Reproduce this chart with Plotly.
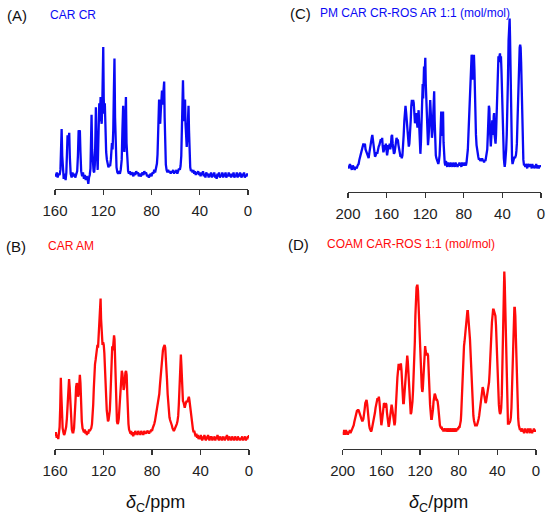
import plotly.graph_objects as go

# ---------------- data (ppm, intensity) ----------------
spec_a = [(160,1),(159.2,-1),(158.5,2),(157.8,-2),(157,1),(156.2,0),(155.5,4),(155,20),(154.5,36),(154,15),(153.5,0),(152.8,-3),(152,1),(151.2,-4),(150.6,2),(150.1,15),(149.6,31),(149.1,24),(148.6,30),(148.2,33),(147.7,14),(147,1),(146.2,-2),(145.5,2),(144.7,-1),(144,1),(143.2,-2),(142.5,0),(141.6,3),(141,15),(140.4,35),(139.9,30),(139.4,35),(138.9,18),(138.3,3),(137.5,-1),(136.8,2),(136,-3),(135.3,0),(134.5,-4),(133.8,-1),(133,-3),(132.4,-7),(131.8,-2),(131.2,0),(130.6,5),(130.1,22),(129.7,47),(129.2,20),(128.6,5),(128,3),(127.5,2),(127,8),(126.5,30),(126.1,53),(125.6,22),(125.1,8),(124.6,4),(124.1,25),(123.6,48),(123.3,56),(122.9,42),(122.5,52),(122.2,61),(121.8,45),(121.3,40),(120.8,55),(120.4,72),(120,100),(119.6,60),(119.2,48),(118.7,56),(118.2,35),(117.6,18),(117,12),(116.4,9),(115.7,6),(115,8),(114.3,7),(113.7,12),(113.2,22),(112.8,25),(112.3,20),(111.7,35),(111.2,65),(110.7,91),(110.2,45),(109.6,15),(109,6),(108.3,2),(107.6,1),(107,3),(106.2,1),(105.5,4),(104.7,12),(104.1,35),(103.5,54),(103,25),(102.5,18),(102,35),(101.5,55),(101.2,61),(100.7,25),(100.1,8),(99.4,3),(98.7,1),(98,3),(97.2,0),(96.5,2),(95.7,1),(95,-1),(94.3,2),(93.5,0),(92.7,3),(92,1),(91.2,2),(90.5,-1),(89.7,1),(89,-1),(88.2,0),(87.5,2),(86.7,0),(86,3),(85.2,1),(84.5,2),(83.7,-1),(83,0),(82.2,-2),(81.5,0),(80.7,1),(80,-1),(79.2,2),(78.5,1),(77.7,4),(77,2),(76.2,5),(75.5,9),(75,16),(74.5,28),(74.1,45),(73.7,59),(73.3,45),(72.8,40),(72.3,50),(71.8,60),(71.3,66),(70.9,55),(70.4,62),(69.9,70),(69.5,73),(69.1,45),(68.6,20),(68.1,8),(67.5,4),(66.8,2),(66.2,4),(65.5,2),(64.8,3),(64.1,1),(63.4,3),(62.7,2),(62,4),(61.3,1),(60.6,3),(60,2),(59.3,4),(58.6,1),(57.9,3),(57.2,5),(56.5,4),(55.9,7),(55.3,15),(54.8,40),(54.3,62),(53.9,74),(53.5,55),(53.1,42),(52.6,50),(52.2,59),(51.8,40),(51.3,25),(50.8,22),(50.3,30),(49.8,45),(49.3,54),(48.9,35),(48.4,15),(47.9,6),(47.3,3),(46.6,4),(46,2),(45.3,4),(44.6,1),(44,3),(43.3,0),(42.6,2),(42,1),(41.3,3),(40.6,0),(40,2),(39.3,-1),(38.6,2),(38,0),(37.3,3),(36.6,-1),(36,1),(35.3,-2),(34.6,2),(34,0),(33.3,1),(32.6,-2),(32,1),(31.3,-1),(30.6,2),(30,-2),(29.3,1),(28.6,-1),(28,2),(27.3,-2),(26.6,0),(26,-3),(25.3,1),(24.6,-1),(24,2),(23.3,-2),(22.6,0),(22,-1),(21.3,2),(20.6,-2),(20,1),(19.3,-1),(18.6,2),(18,-2),(17.3,0),(16.6,-1),(16,2),(15.3,-1),(14.6,1),(14,-2),(13.3,1),(12.6,-1),(12,2),(11.3,-2),(10.6,0),(10,-1),(9.3,2),(8.6,-2),(8,1),(7.3,-1),(6.6,2),(6,0),(5.3,-2),(4.6,1),(4,-1),(3.3,2),(2.6,-2),(2,0),(1.3,-1),(0.6,1),(0,0)]

spec_b = [(160,-1),(159.3,2),(158.6,-2),(158,0),(157.3,-3),(156.7,1),(156.2,6),(155.7,20),(155.2,42),(154.8,30),(154.3,12),(153.7,5),(153.1,2),(152.5,0),(152,1),(151.4,3),(150.8,6),(150.2,12),(149.6,22),(149,35),(148.4,41),(147.9,35),(147.3,20),(146.7,9),(146.1,4),(145.5,2),(144.9,2),(144.3,5),(143.7,12),(143.1,25),(142.6,35),(142.1,38),(141.6,37),(141,28),(140.5,30),(140,40),(139.5,44),(139,38),(138.5,22),(137.9,10),(137.3,5),(136.7,4),(136.1,2),(135.5,4),(134.9,1),(134.3,3),(133.7,0),(133.1,2),(132.5,1),(131.9,4),(131.3,3),(130.7,4),(130.1,5),(129.5,8),(129,14),(128.5,22),(128,34),(127.5,46),(127,52),(126.5,55),(126,60),(125.5,62),(125,66),(124.5,64),(124,72),(123.6,76),(123.1,80),(122.7,92),(122.4,100),(122,85),(121.6,72),(121.2,70),(120.8,66),(120.3,68),(119.8,66),(119.3,60),(118.8,52),(118.3,40),(117.8,28),(117.3,18),(116.8,12),(116.3,10),(115.8,11),(115.3,14),(114.8,18),(114.3,28),(113.8,45),(113.3,60),(112.8,65),(112.3,62),(111.8,66),(111.3,73),(110.9,70),(110.4,55),(109.9,35),(109.4,18),(108.9,10),(108.4,8),(107.9,9),(107.4,12),(106.9,18),(106.4,25),(105.9,35),(105.4,42),(104.9,47),(104.4,45),(103.9,38),(103.4,33),(102.9,35),(102.4,42),(101.9,46),(101.4,47),(100.9,44),(100.4,30),(99.9,15),(99.4,8),(98.9,4),(98.3,2),(97.7,1),(97.2,3),(96.7,0),(96.1,2),(95.5,-1),(95,2),(94.4,0),(93.8,3),(93.2,1),(92.6,2),(92,0),(91.4,3),(90.8,1),(90.2,2),(89.6,0),(89,3),(88.4,1),(87.8,2),(87.2,0),(86.6,3),(86,1),(85.4,2),(84.8,1),(84.2,3),(83.6,2),(83,3),(82.4,1),(81.8,3),(81.2,2),(80.6,4),(80,3),(79.4,5),(78.8,6),(78.2,8),(77.6,10),(77,13),(76.4,17),(75.8,20),(75.2,23),(74.6,26),(74,30),(73.5,36),(73,42),(72.5,48),(72,54),(71.5,58),(71,62),(70.5,64),(70,66),(69.6,66),(69.1,64),(68.6,58),(68.1,50),(67.6,40),(67.1,30),(66.6,22),(66.1,16),(65.6,13),(65.1,11),(64.6,10),(64.1,8),(63.6,7),(63.1,5),(62.6,4),(62,3),(61.4,4),(60.8,5),(60.2,7),(59.6,8),(59,10),(58.4,14),(57.9,22),(57.4,35),(57,48),(56.6,56),(56.2,59),(55.8,52),(55.4,40),(55,30),(54.5,25),(54,24),(53.5,21),(53,20),(52.5,22),(52,24),(51.5,25),(51,24),(50.5,26),(50,28),(49.6,28),(49.2,26),(48.7,22),(48.2,17),(47.7,13),(47.2,9),(46.7,6),(46.2,4),(45.7,2),(45.2,3),(44.6,1),(44,-1),(43.4,1),(42.8,-2),(42.2,0),(41.6,-3),(41,-1),(40.4,-3),(39.8,0),(39.2,-2),(38.6,-4),(38,-1),(37.4,-3),(36.8,0),(36.2,-2),(35.6,-4),(35,-1),(34.4,-3),(33.8,0),(33.2,-2),(32.6,-4),(32,-1),(31.4,-3),(30.8,-1),(30.2,-4),(29.6,-2),(29,-3),(28.4,-1),(27.8,-4),(27.2,-2),(26.6,-3),(26,0),(25.4,-2),(24.8,-4),(24.2,-1),(23.6,-3),(23,-2),(22.4,-4),(21.8,-1),(21.2,-3),(20.6,-2),(20,-4),(19.4,-1),(18.8,-3),(18.2,0),(17.6,-2),(17,-4),(16.4,-1),(15.8,-3),(15.2,-2),(14.6,-4),(14,-1),(13.4,-3),(12.8,-2),(12.2,-4),(11.6,-1),(11,-3),(10.4,-2),(9.8,-4),(9.2,-1),(8.6,-3),(8,-2),(7.4,-4),(6.8,-2),(6.2,-3),(5.6,-1),(5,-4),(4.4,-2),(3.8,-3),(3.2,-1),(2.6,-4),(2,-2),(1.4,-3),(0.8,-1),(0.2,-2),(0,0)]

spec_c = [(200,-1),(199,-3),(198,0),(197,-2),(196,-4),(195,-1),(194,-3),(193,-4),(192,-2),(191,-3),(190,-1),(189,0),(188.2,3),(187.4,5),(186.5,8),(185.6,10),(184.8,11),(184,14),(183.3,12),(182.5,14),(181.8,10),(181,8),(180.2,6),(179.4,5),(178.6,4),(177.8,8),(177,12),(176.2,17),(175.4,18),(174.8,20),(174.1,16),(173.4,10),(172.7,6),(172,5),(171.3,6),(170.5,8),(169.7,7),(169,10),(168.2,12),(167.5,13),(166.7,16),(166,17),(165.3,15),(164.6,18),(164,12),(163.3,8),(162.6,10),(162,13),(161.4,11),(160.8,14),(160.2,10),(159.5,6),(158.8,9),(158.2,13),(157.5,11),(156.8,14),(156.2,10),(155.5,13),(154.9,19),(154.3,20),(153.7,14),(153,9),(152.4,7),(151.7,8),(151,11),(150.3,15),(149.7,18),(149.1,16),(148.4,17),(147.7,13),(147,9),(146.3,6),(145.6,5),(145,6),(144.3,4),(143.6,6),(143,11),(142.3,20),(141.6,30),(141,38),(140.4,40),(139.7,35),(139,28),(138.3,18),(137.7,14),(137,12),(136.4,14),(135.7,20),(135,30),(134.4,40),(133.8,44),(133.2,40),(132.5,44),(131.9,42),(131.3,35),(130.6,28),(130,30),(129.3,35),(128.7,30),(128,25),(127.4,33),(126.8,37),(126.2,26),(125.5,10),(125,7),(124.4,15),(123.8,30),(123.2,50),(122.6,55),(122.1,45),(121.6,62),(121.2,67),(120.7,58),(120.3,65),(119.9,73),(119.4,55),(118.8,40),(118.2,25),(117.6,15),(117.1,13),(116.5,18),(115.9,30),(115.3,40),(114.8,44),(114.2,35),(113.6,25),(113,18),(112.4,22),(111.8,35),(111.3,45),(110.7,50),(110.2,30),(109.6,12),(109,6),(108.4,4),(107.7,2),(107,1),(106.4,0),(105.8,2),(105.1,6),(104.5,15),(104,30),(103.4,36),(102.9,20),(102.4,20),(101.9,33),(101.5,36),(101,15),(100.5,4),(99.8,1),(99.2,-1),(98.5,2),(97.8,0),(97.2,-2),(96.5,1),(95.8,-1),(95.2,0),(94.5,-2),(93.8,1),(93.2,-1),(92.5,0),(91.8,-2),(91.2,1),(90.5,-1),(89.8,0),(89.2,-2),(88.5,1),(87.8,-1),(87.2,0),(86.5,-2),(85.8,0),(85.2,-1),(84.5,1),(83.8,-1),(83.2,0),(82.5,-2),(81.8,1),(81.2,-1),(80.5,0),(79.8,-1),(79.2,1),(78.5,0),(77.8,-1),(77.2,1),(76.5,4),(75.8,10),(75.2,20),(74.6,30),(74,38),(73.4,45),(72.9,55),(72.4,70),(71.9,75),(71.4,74),(71,60),(70.5,58),(70,70),(69.5,75),(69,65),(68.5,45),(68,30),(67.4,20),(66.8,13),(66.2,9),(65.6,6),(65,5),(64.3,3),(63.6,4),(63,2),(62.3,3),(61.6,2),(61,4),(60.3,2),(59.6,3),(59,1),(58.3,3),(57.6,2),(57,4),(56.3,6),(55.7,10),(55.1,20),(54.5,32),(54,40),(53.5,38),(53,25),(52.5,15),(52,12),(51.5,18),(51,25),(50.5,30),(50,20),(49.5,22),(49,33),(48.6,35),(48.1,20),(47.6,15),(47.1,14),(46.6,20),(46.1,30),(45.6,45),(45.1,60),(44.6,70),(44.1,74),(43.6,72),(43.1,74),(42.5,76),(42,70),(41.5,74),(41,65),(40.5,50),(40,35),(39.5,20),(39,10),(38.5,4),(38,0),(37.6,-2),(37.1,1),(36.6,4),(36.1,10),(35.5,20),(34.8,35),(34.2,60),(33.6,85),(33,97),(32.5,100),(32.1,88),(31.6,60),(31.1,30),(30.6,12),(30,3),(29.5,0),(29,1),(28.5,3),(28,4),(27.5,5),(27,4),(26.5,5),(26,6),(25.5,9),(25,14),(24.4,28),(23.8,48),(23.2,66),(22.6,76),(22.1,80),(21.6,82),(21.1,80),(20.6,70),(20.1,50),(19.5,28),(18.9,10),(18.3,3),(17.6,-1),(17,0),(16.3,-2),(15.6,0),(15,-1),(14.3,-3),(13.6,0),(13,-1),(12.3,-2),(11.6,0),(11,-2),(10.3,-1),(9.6,-3),(9,0),(8.3,-2),(7.6,-1),(7,-3),(6.3,-1),(5.6,-2),(5,0),(4.3,-3),(3.6,-1),(3,-2),(2.3,-3),(1.6,-1),(1,-2),(0.4,-1),(0,-2)]

spec_d = [(200,-1),(199.3,-3),(198.6,0),(198,-2),(197.3,-3),(196.6,0),(196,-2),(195.3,-1),(194.6,-3),(194,-1),(193.3,-2),(192.6,0),(192,-2),(191.3,-1),(190.6,0),(190,1),(189.3,2),(188.6,3),(188,5),(187.3,7),(186.6,9),(186,11),(185.3,12),(184.6,12),(184,13),(183.3,12),(182.6,11),(182,10),(181.3,8),(180.6,7),(180,6),(179.3,6),(178.6,7),(178,9),(177.3,13),(176.6,17),(176,19),(175.3,19),(174.6,16),(174,11),(173.3,6),(172.6,3),(172,1),(171.3,0),(170.6,-1),(170,0),(169.3,2),(168.6,4),(168,6),(167.3,8),(166.6,11),(166,14),(165.3,17),(164.6,19),(164,20),(163.3,19),(162.6,21),(162,18),(161.3,12),(160.6,5),(160,3),(159.3,6),(158.6,11),(158,15),(157.3,17),(156.6,16),(156,14),(155.4,17),(154.8,16),(154.2,11),(153.6,6),(153,3),(152.4,2),(151.8,4),(151.2,8),(150.6,13),(150,16),(149.4,16),(148.8,14),(148.2,10),(147.6,6),(147,4),(146.4,3),(145.8,5),(145.2,10),(144.6,18),(144,26),(143.4,33),(142.8,38),(142.2,41),(141.6,41),(141,38),(140.4,39),(139.8,42),(139.2,38),(138.6,30),(138,22),(137.4,17),(136.8,17),(136.2,22),(135.6,30),(135,38),(134.4,43),(133.8,46),(133.2,47),(132.6,43),(132,36),(131.4,27),(130.8,19),(130.2,13),(129.6,10),(129,11),(128.4,14),(127.8,18),(127.2,25),(126.6,32),(126,40),(125.4,55),(124.8,72),(124.2,85),(123.6,90),(123.1,91),(122.6,91),(122.1,88),(121.6,80),(121.1,68),(120.6,58),(120,48),(119.4,40),(118.8,32),(118.2,27),(117.6,24),(117.1,26),(116.6,32),(116.1,40),(115.6,48),(115.1,52),(114.7,53),(114.2,50),(113.7,48),(113.2,47),(112.7,48),(112.2,48),(111.7,47),(111.2,42),(110.7,34),(110.2,25),(109.6,16),(109,10),(108.4,7),(107.8,7),(107.2,9),(106.6,13),(106,18),(105.4,22),(104.8,23),(104.2,22),(103.6,20),(103,19),(102.4,19),(101.8,18),(101.2,15),(100.6,10),(100,6),(99.4,3),(98.8,2),(98.2,1),(97.6,2),(97,0),(96.4,1),(95.8,-1),(95.2,1),(94.6,0),(94,1),(93.4,-1),(92.8,1),(92.2,0),(91.6,-1),(91,1),(90.4,0),(89.8,-1),(89.2,1),(88.6,0),(88,-1),(87.4,1),(86.8,0),(86.2,-1),(85.6,1),(85,0),(84.4,-1),(83.8,1),(83.2,0),(82.6,-1),(82,1),(81.4,0),(80.8,1),(80.2,1),(79.6,2),(79,2),(78.4,4),(77.8,6),(77.4,10),(76.9,19),(76.3,30),(75.7,40),(75.1,48),(74.5,53),(73.9,56),(73.4,60),(72.8,66),(72.2,71),(71.6,74),(71,75),(70.5,75),(70,72),(69.4,67),(68.9,62),(68.3,57),(67.7,48),(67.1,38),(66.5,28),(66,20),(65.4,14),(64.8,9),(64.2,6),(63.6,4),(63,3),(62.4,3),(61.8,3),(61.2,3),(60.6,4),(60,5),(59.4,7),(58.8,9),(58.2,12),(57.6,16),(57,20),(56.4,24),(55.8,26),(55.2,27),(54.6,26),(54,23),(53.4,20),(52.8,18),(52.2,17),(51.6,18),(51,20),(50.4,22),(49.8,24),(49.2,26),(48.6,30),(48,36),(47.4,42),(46.8,50),(46.2,60),(45.6,68),(45,73),(44.4,76),(43.8,76),(43.2,74),(42.6,72),(42,72),(41.4,66),(40.8,54),(40.2,42),(39.6,32),(39,23),(38.4,16),(37.8,12),(37.2,10),(36.6,11),(36,14),(35.4,22),(34.8,40),(34.2,65),(33.7,85),(33.2,97),(32.8,100),(32.4,94),(32,82),(31.5,66),(31,48),(30.5,28),(30,12),(29.5,5),(29,4),(28.5,4),(28,4),(27.5,5),(27,5),(26.5,6),(26,8),(25.4,14),(24.8,27),(24.2,45),(23.6,62),(23,72),(22.4,77),(21.9,77),(21.4,72),(20.8,58),(20.2,40),(19.6,26),(19,14),(18.4,7),(17.8,3),(17.2,1),(16.6,0),(16,1),(15.4,-1),(14.8,0),(14.2,1),(13.6,-1),(13,0),(12.4,-2),(11.8,0),(11.2,1),(10.6,-1),(10,0),(9.4,-2),(8.8,0),(8.2,1),(7.6,-1),(7,0),(6.4,-2),(5.8,1),(5.2,-1),(4.6,0),(4,-2),(3.4,0),(2.8,-1),(2.2,1),(1.6,-1),(1,0),(0.4,-1),(0,0)]

ticks_ab = [160, 120, 80, 40, 0]
ticks_cd = [200, 160, 120, 80, 40, 0]
labels = ["(A)", "(B)", "(C)", "(D)"]
titles = ["CAR CR", "CAR AM", "PM CAR CR-ROS AR 1:1 (mol/mol)", "COAM CAR-ROS 1:1 (mol/mol)"]

BLUE = "#0a0af5"
RED = "#ff0a0a"
W, H = 550, 520
FONT = "Liberation Sans, Arial, sans-serif"

# panel geometry in pixels: x-left, x-right, axis line y, baseline y, tallest peak y
panels = [
    dict(spec=spec_a, color=BLUE, xr=[160, 0], ticks=ticks_ab, x0=55, x1=248, axis=189, base=175, top=47),
    dict(spec=spec_b, color=RED, xr=[160, 0], ticks=ticks_ab, x0=55, x1=249, axis=448.5, base=435, top=298.5),
    dict(spec=spec_c, color=BLUE, xr=[200, 0], ticks=ticks_cd, x0=348, x1=541, axis=192, base=164, top=18.5),
    dict(spec=spec_d, color=RED, xr=[200, 0], ticks=ticks_cd, x0=342.7, x1=536, axis=449, base=430, top=271.5),
]

fig = go.Figure()
layout = dict(width=W, height=H, margin=dict(l=0, r=0, t=0, b=0, pad=0, autoexpand=False),
              paper_bgcolor="white", plot_bgcolor="white", showlegend=False,
              template="none")

for i, p in enumerate(panels, start=1):
    xs = [v[0] for v in p["spec"]]
    ys = [v[1] for v in p["spec"]]
    sfx = "" if i == 1 else str(i)
    fig.add_trace(go.Scatter(x=xs, y=ys, mode="lines",
                             line=dict(color=p["color"], width=2.3),
                             xaxis="x" + sfx, yaxis="y" + sfx, hoverinfo="skip"))
    scale = (p["base"] - p["top"]) / 100.0
    dom_top = p["top"] - 8
    ylo = -(p["axis"] - p["base"]) / scale
    yhi = 100 + (p["top"] - dom_top) / scale
    layout["xaxis" + sfx] = dict(
        domain=[p["x0"] / W, p["x1"] / W], range=p["xr"], anchor="y" + sfx,
        showline=True, linecolor="#333", linewidth=1.3, ticks="outside",
        ticklen=5, tickwidth=1.3, tickcolor="#333", tickvals=p["ticks"],
        tickfont=dict(family=FONT, size=15, color="#222"), ticklabelstandoff=3,
        showgrid=False, zeroline=False, fixedrange=True, automargin=False)
    layout["yaxis" + sfx] = dict(
        domain=[1 - p["axis"] / H, 1 - dom_top / H], range=[ylo, yhi],
        anchor="x" + sfx, visible=False, showgrid=False, zeroline=False,
        automargin=False, fixedrange=True)

fig.update_layout(**layout)

ann = []
# letter labels and sample titles (pixel positions)
pos = [(5, 15, 48, 15), (4, 246, 46, 246), (288, 13, 318, 13), (286, 244, 325, 244)]
cols = [BLUE, RED, BLUE, RED]
for k, (lx, ly, tx, ty) in enumerate(pos):
    ann.append(dict(x=lx / W, y=1 - ly / H, xref="paper", yref="paper", xanchor="left",
                    yanchor="middle", showarrow=False, text=labels[k],
                    font=dict(family=FONT, size=15, color="#111")))
    ann.append(dict(x=tx / W, y=1 - ty / H, xref="paper", yref="paper", xanchor="left",
                    yanchor="middle", showarrow=False, text=titles[k],
                    font=dict(family=FONT, size=12, color=cols[k])))
for cx in (155, 438):
    ann.append(dict(x=cx / W, y=1 - 503 / H, xref="paper", yref="paper", xanchor="center",
                    yanchor="middle", showarrow=False,
                    text="<i>δ</i><sub>C</sub>/ppm",
                    font=dict(family=FONT, size=18, color="#111")))
fig.update_layout(annotations=ann)

fig.write_html("out.html", config={"displayModeBar": False, "staticPlot": True},
               post_script="document.body.style.margin='0';document.body.style.overflow='hidden';")
